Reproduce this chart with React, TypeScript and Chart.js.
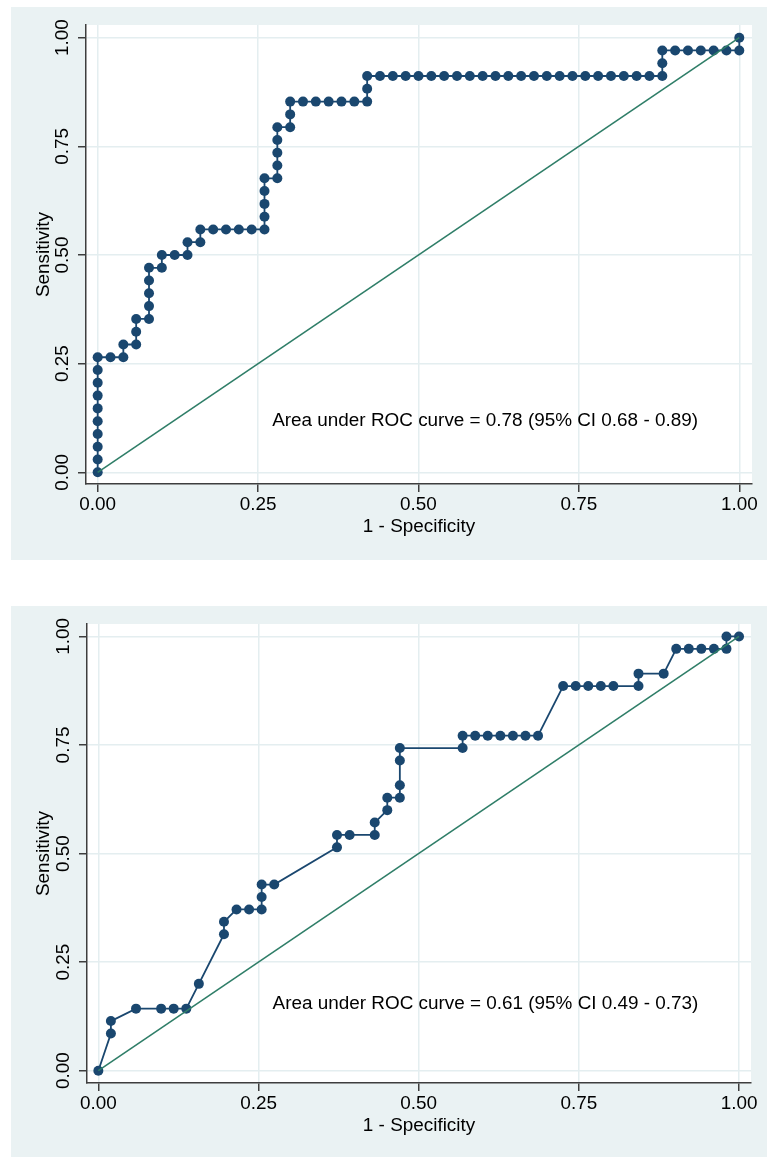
import React, { useEffect, useRef } from 'react';
import { Chart, registerables } from 'chart.js';

Chart.register(...registerables);

// ---------- data ----------
const tickValues = [0, 0.25, 0.5, 0.75, 1];
const tickLabels = ['0.00', '0.25', '0.50', '0.75', '1.00'];
const xTitle = '1 - Specificity';
const yTitle = 'Sensitivity';

const refX = [0, 1];
const refY = [0, 1];

const fpr1 = [
  0, 0, 0, 0, 0, 0, 0, 0, 0, 0,
  0.02, 0.04, 0.04, 0.06, 0.06, 0.06, 0.08, 0.08, 0.08, 0.08, 0.08,
  0.10, 0.10, 0.12, 0.14, 0.14, 0.16, 0.16, 0.18, 0.20, 0.22, 0.24,
  0.26, 0.26, 0.26, 0.26, 0.26,
  0.28, 0.28, 0.28, 0.28, 0.28,
  0.30, 0.30, 0.30,
  0.32, 0.34, 0.36, 0.38, 0.40, 0.42, 0.42, 0.42,
  0.44, 0.46, 0.48, 0.50, 0.52, 0.54, 0.56, 0.58, 0.60, 0.62, 0.64, 0.66,
  0.68, 0.70, 0.72, 0.74, 0.76, 0.78, 0.80, 0.82, 0.84, 0.86, 0.88,
  0.88, 0.88,
  0.90, 0.92, 0.94, 0.96, 0.98, 1.00,
  1.00,
];
const tpr1 = [
  0, 0.0294, 0.0588, 0.0882, 0.1176, 0.1471, 0.1765, 0.2059, 0.2353, 0.2647,
  0.2647, 0.2647, 0.2941, 0.2941, 0.3235, 0.3529, 0.3529, 0.3824, 0.4118, 0.4412, 0.4706,
  0.4706, 0.5, 0.5, 0.5, 0.5294, 0.5294, 0.5588, 0.5588, 0.5588, 0.5588, 0.5588,
  0.5588, 0.5882, 0.6176, 0.6471, 0.6765,
  0.6765, 0.7059, 0.7353, 0.7647, 0.7941,
  0.7941, 0.8235, 0.8529,
  0.8529, 0.8529, 0.8529, 0.8529, 0.8529, 0.8529, 0.8824, 0.9118,
  0.9118, 0.9118, 0.9118, 0.9118, 0.9118, 0.9118, 0.9118, 0.9118, 0.9118, 0.9118, 0.9118, 0.9118,
  0.9118, 0.9118, 0.9118, 0.9118, 0.9118, 0.9118, 0.9118, 0.9118, 0.9118, 0.9118, 0.9118,
  0.9412, 0.9706,
  0.9706, 0.9706, 0.9706, 0.9706, 0.9706, 0.9706,
  1,
];
const auc1Text = 'Area under ROC curve = 0.78 (95% CI 0.68 - 0.89)';
const auc1Pos = [0.272, 0.119];

const fpr2 = [
  0, 0.0196, 0.0196, 0.0588, 0.0980, 0.1176, 0.1373, 0.1569, 0.1961, 0.1961,
  0.2157, 0.2353, 0.2549, 0.2549, 0.2549, 0.2745, 0.3725, 0.3725, 0.3922, 0.4314,
  0.4314, 0.4510, 0.4510, 0.4706, 0.4706, 0.4706, 0.4706, 0.5686, 0.5686, 0.5882,
  0.6078, 0.6275, 0.6471, 0.6667, 0.6863, 0.7255, 0.7451, 0.7647, 0.7843, 0.8039,
  0.8431, 0.8431, 0.8824, 0.9020, 0.9216, 0.9412, 0.9608, 0.9804, 0.9804, 1,
];
const tpr2 = [
  0, 0.0857, 0.1143, 0.1429, 0.1429, 0.1429, 0.1429, 0.2, 0.3143, 0.3429,
  0.3714, 0.3714, 0.3714, 0.4, 0.4286, 0.4286, 0.5143, 0.5429, 0.5429, 0.5429,
  0.5714, 0.6, 0.6286, 0.6286, 0.6571, 0.7143, 0.7429, 0.7429, 0.7714, 0.7714,
  0.7714, 0.7714, 0.7714, 0.7714, 0.7714, 0.8857, 0.8857, 0.8857, 0.8857, 0.8857,
  0.8857, 0.9143, 0.9143, 0.9714, 0.9714, 0.9714, 0.9714, 0.9714, 1, 1,
];
const auc2Text = 'Area under ROC curve = 0.61 (95% CI 0.49 - 0.73)';
const auc2Pos = [0.272, 0.155];

// ---------- styles ----------
const FONT = '"Liberation Sans", Arial, Helvetica, sans-serif';
const FS = 18.9;
const BG = '#EAF2F3';
const GRID = '#E4EEF0';
const AXIS = '#3E3E3E';
const NAVY = '#1A476F';
const GREEN = '#2F7E68';

type PanelCfg = {
  left: number; top: number; width: number; height: number;
  padTop: number; padRight: number; yWidth: number; xHeight: number;
  xMin: number; xMax: number; yMin: number; yMax: number;
  xTitlePad: number; yTitlePad: number;
  fpr: number[]; tpr: number[]; label: string; labelPos: number[];
};

const panels: PanelCfg[] = [
  {
    left: 11, top: 7, width: 756, height: 553,
    padTop: 18, padRight: 15, yWidth: 75, xHeight: 76,
    xMin: -0.0182, xMax: 1.0198, yMin: -0.0269, yMax: 1.0292,
    xTitlePad: 21.5, yTitlePad: 21.5,
    fpr: fpr1, tpr: tpr1, label: auc1Text, labelPos: auc1Pos,
  },
  {
    left: 11, top: 606, width: 756, height: 551,
    padTop: 18, padRight: 16, yWidth: 76, xHeight: 74,
    xMin: -0.0177, xMax: 1.0187, yMin: -0.0283, yMax: 1.0286,
    xTitlePad: 19.8, yTitlePad: 21.5,
    fpr: fpr2, tpr: tpr2, label: auc2Text, labelPos: auc2Pos,
  },
];

function RocPanel({ cfg }: { cfg: PanelCfg }) {
  const ref = useRef<HTMLCanvasElement>(null);

  useEffect(() => {
    const canvas = ref.current;
    if (!canvas) return;

    const bgPlugin = {
      id: 'stataBg',
      beforeDraw(chart: any) {
        const { ctx, chartArea, width, height } = chart;
        ctx.save();
        ctx.fillStyle = BG;
        ctx.fillRect(0, 0, width, height);
        ctx.fillStyle = '#FFFFFF';
        ctx.fillRect(chartArea.left, chartArea.top, chartArea.right - chartArea.left, chartArea.bottom - chartArea.top);
        ctx.restore();
      },
    };

    const labelPlugin = {
      id: 'aucLabel',
      afterDatasetsDraw(chart: any) {
        const { ctx, scales } = chart;
        const px = scales.x.getPixelForValue(cfg.labelPos[0]);
        const py = scales.y.getPixelForValue(cfg.labelPos[1]);
        ctx.save();
        ctx.font = `${FS}px ${FONT}`;
        ctx.fillStyle = '#000000';
        ctx.textAlign = 'left';
        ctx.textBaseline = 'middle';
        ctx.fillText(cfg.label, px, py);
        ctx.restore();
      },
    };

    const chart = new Chart(canvas, {
      type: 'scatter',
      data: {
        datasets: [
          {
            label: 'Reference',
            data: refX.map((x, i) => ({ x, y: refY[i] })),
            showLine: true,
            borderColor: GREEN,
            borderWidth: 1.6,
            pointRadius: 0,
            order: 0,
          },
          {
            label: 'ROC',
            data: cfg.fpr.map((x, i) => ({ x, y: cfg.tpr[i] })),
            showLine: true,
            borderColor: NAVY,
            borderWidth: 1.8,
            backgroundColor: NAVY,
            pointBackgroundColor: NAVY,
            pointBorderColor: NAVY,
            pointBorderWidth: 0,
            pointRadius: 5,
            order: 1,
          },
        ],
      },
      options: {
        responsive: false,
        animation: false,
        devicePixelRatio: 1,
        layout: { padding: { left: 0, top: cfg.padTop, right: cfg.padRight, bottom: 0 } },
        plugins: { legend: { display: false }, tooltip: { enabled: false } },
        elements: { line: { tension: 0 } },
        scales: {
          x: {
            type: 'linear',
            min: cfg.xMin,
            max: cfg.xMax,
            afterBuildTicks: (s: any) => { s.ticks = tickValues.map((v) => ({ value: v })); },
            afterFit: (s: any) => { s.height = cfg.xHeight; },
            ticks: {
              callback: (_v: any, i: number) => tickLabels[i],
              font: { family: FONT, size: FS },
              color: '#000000',
              padding: 1.5,
              autoSkip: false,
              maxRotation: 0,
              minRotation: 0,
            },
            grid: { color: GRID, lineWidth: 1.5, tickColor: AXIS, tickWidth: 1.5, tickLength: 8, drawTicks: true },
            border: { display: true, color: AXIS, width: 1.5 },
            title: {
              display: true,
              text: xTitle,
              font: { family: FONT, size: FS },
              color: '#000000',
              padding: { top: 0, bottom: cfg.xTitlePad },
            },
          },
          y: {
            type: 'linear',
            min: cfg.yMin,
            max: cfg.yMax,
            afterBuildTicks: (s: any) => { s.ticks = tickValues.map((v) => ({ value: v })); },
            afterFit: (s: any) => { s.width = cfg.yWidth; },
            ticks: {
              callback: (_v: any, i: number) => tickLabels[i],
              font: { family: FONT, size: FS },
              color: '#000000',
              padding: -3.5,
              autoSkip: false,
              minRotation: 90,
              maxRotation: 90,
              crossAlign: 'center',
            },
            grid: { color: GRID, lineWidth: 1.5, tickColor: AXIS, tickWidth: 1.5, tickLength: 8, drawTicks: true },
            border: { display: true, color: AXIS, width: 1.5 },
            title: {
              display: true,
              text: yTitle,
              font: { family: FONT, size: FS },
              color: '#000000',
              padding: { top: cfg.yTitlePad, bottom: 0 },
            },
          },
        },
      } as any,
      plugins: [bgPlugin, labelPlugin],
    });

    return () => chart.destroy();
  }, [cfg]);

  return (
    <canvas
      ref={ref}
      width={cfg.width}
      height={cfg.height}
      style={{ position: 'absolute', left: cfg.left, top: cfg.top, width: cfg.width, height: cfg.height, display: 'block' }}
    />
  );
}

export default function App() {
  return (
    <div style={{ position: 'absolute', left: 0, top: 0, width: 767, height: 1157, background: '#FFFFFF', overflow: 'hidden' }}>
      {panels.map((p, i) => (
        <RocPanel key={i} cfg={p} />
      ))}
    </div>
  );
}
